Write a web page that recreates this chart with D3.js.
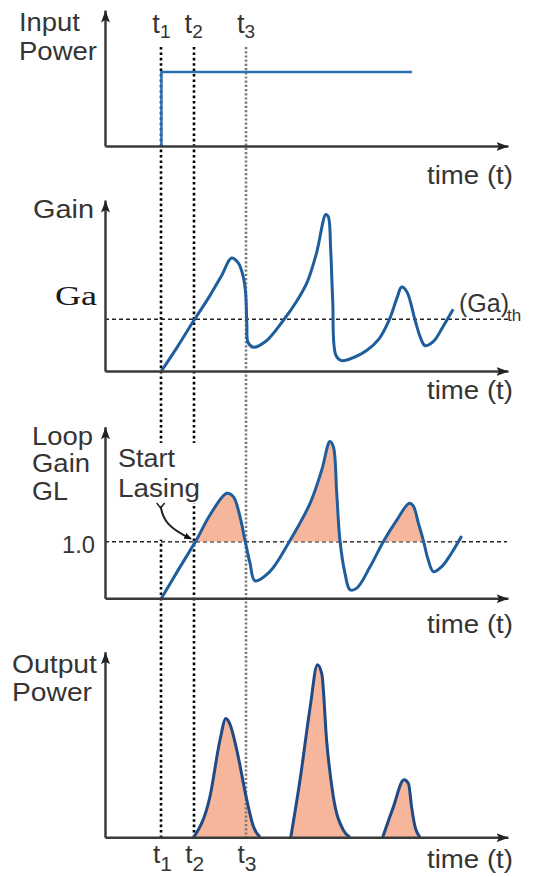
<!DOCTYPE html>
<html><head><meta charset="utf-8">
<script src="https://cdn.jsdelivr.net/npm/d3@7"></script>
<style>
html,body{margin:0;padding:0;background:#fff;}
svg{display:block;}
text{font-family:"Liberation Sans",Arial,Helvetica,sans-serif;fill:#353535;}
</style></head>
<body>
<script>
// ---------------- data ----------------
const tMarks = [14, 22, 35];            // t1, t2, t3
const tMarkNames = ["1", "2", "3"];

const inputT = [14, 14, 76.2];
const inputP = [0, 1, 1];

const gainThreshold = 1.0;
const gainT = [14, 18, 22, 26, 29, 31.4, 33.1, 34.3, 34.9, 35.2, 35.5, 36.8, 40, 44, 47.6, 50.2, 52.5, 54.8, 55.4, 56.0, 56.5, 57.3, 58.7, 62, 65, 68, 70.5, 72.5, 73.6, 74.9, 76.9, 78.2, 79.4, 81.5, 83.9, 86.4];
const gainV = [0, 0.47, 0.97, 1.45, 1.85, 2.18, 2.08, 1.82, 1.5, 0.9, 0.55, 0.46, 0.58, 0.95, 1.35, 1.72, 2.28, 3.02, 2.98, 2.34, 1.37, 0.3, 0.2, 0.27, 0.4, 0.62, 0.98, 1.42, 1.62, 1.53, 0.99, 0.66, 0.49, 0.57, 0.86, 1.19];

const loopThreshold = 1.0;
const loopT = [14, 18, 22.6, 26.05, 30.2, 31.84, 33.5, 34.74, 35.98, 37.2, 40.9, 45.9, 50.9, 53.8, 55.8, 56.65, 57.5, 58.3, 59.55, 60.8, 62.5, 65.8, 69.05, 72.4, 75.5, 76.5, 77.75, 79, 80.2, 81.5, 83.55, 86, 88.5];
const loopV = [0, 0.48, 1.02, 1.47, 1.855, 1.795, 1.44, 1.02, 0.62, 0.31, 0.47, 1.02, 1.68, 2.27, 2.77, 2.68, 1.855, 1.02, 0.44, 0.15, 0.18, 0.56, 1.0, 1.38, 1.68, 1.63, 1.33, 1.02, 0.68, 0.47, 0.56, 0.8, 1.1];

const pulse1T = [22, 26.05, 28.5, 30.0, 31.0, 32.7, 35.2, 36.8, 38.5];
const pulse1P = [0, 0.22, 0.52, 0.64, 0.61, 0.47, 0.2, 0.06, 0];
const pulse2T = [46.1, 48.4, 50.9, 52.7, 53.8, 55.0, 56.65, 59.1, 60.8];
const pulse2P = [0, 0.31, 0.70, 0.93, 0.88, 0.52, 0.22, 0.04, 0];
const pulse3T = [68.9, 71.5, 74.2, 75.3, 76.1, 76.9, 78.2];
const pulse3P = [0, 0.16, 0.31, 0.29, 0.16, 0.06, 0];

// ---------------- layout ----------------
const W = 534, H = 877;
const BLUE = "#1f5d9c", NAVY = "#1f4a85", PINK = "#f6b69c", AXIS = "#3a3a3a";

const x = d3.scaleLinear([0, 100], [105, 508]);
const yIn = d3.scaleLinear([0, 1.84], [146, 10]);
const yGain = d3.scaleLinear([0, 3.3], [371, 200]);
const yLoop = d3.scaleLinear([0, 3.03], [598.3, 426.7]);
const yOut = d3.scaleLinear([0, 1], [837.3, 651.7]);

const svg = d3.select("body").append("svg").attr("width", W).attr("height", H);
const defs = svg.append("defs");
defs.append("marker").attr("id", "arr").attr("viewBox", "0 0 12 10")
  .attr("refX", 12).attr("refY", 5).attr("markerWidth", 12).attr("markerHeight", 10)
  .attr("markerUnits", "userSpaceOnUse").attr("orient", "auto")
  .append("path").attr("d", "M0,0.5 L12,5 L0,9.5 L2.5,5 z").attr("fill", "#222");
defs.append("marker").attr("id", "dot").attr("viewBox", "0 0 10 10")
  .attr("refX", 8).attr("refY", 5).attr("markerWidth", 8).attr("markerHeight", 8)
  .attr("markerUnits", "userSpaceOnUse").attr("orient", "auto")
  .append("path").attr("d", "M0,1 L10,5 L0,9 z").attr("fill", "#111");
defs.append("clipPath").attr("id", "aboveLoop").append("rect")
  .attr("x", 0).attr("y", 0).attr("width", W).attr("height", yLoop(loopThreshold));

const zip = (a, b) => a.map((v, i) => [v, b[i]]);
const lineOf = (ys, curve) => d3.line().x(d => x(d[0])).y(d => ys(d[1])).curve(curve);
const smooth = d3.curveCatmullRom.alpha(0.5);

// threshold dashed lines
svg.append("line").attr("x1", x(0)).attr("x2", 510)
  .attr("y1", yGain(gainThreshold)).attr("y2", yGain(gainThreshold))
  .attr("stroke", "#222").attr("stroke-width", 1.5).attr("stroke-dasharray", "4,3");
svg.append("line").attr("x1", x(0)).attr("x2", 507)
  .attr("y1", yLoop(loopThreshold)).attr("y2", yLoop(loopThreshold))
  .attr("stroke", "#222").attr("stroke-width", 1.5).attr("stroke-dasharray", "4,3");

// loop gain fill above 1.0
const loopData = zip(loopT, loopV);
svg.append("path").datum(loopData)
  .attr("clip-path", "url(#aboveLoop)")
  .attr("d", d3.area().x(d => x(d[0])).y0(yLoop(loopThreshold)).y1(d => yLoop(d[1])).curve(smooth))
  .attr("fill", PINK);

// output pulses fill
const pulses = [zip(pulse1T, pulse1P), zip(pulse2T, pulse2P), zip(pulse3T, pulse3P)];
svg.selectAll(".pfill").data(pulses).join("path")
  .attr("d", d3.area().x(d => x(d[0])).y0(yOut(0)).y1(d => yOut(d[1])).curve(d3.curveMonotoneX))
  .attr("fill", PINK);

// vertical dotted time markers
const vTop = 47, vBot = yOut(0);
svg.selectAll(".vline").data(tMarks).join("line")
  .attr("x1", d => Math.round(x(d))).attr("x2", d => Math.round(x(d))).attr("y1", vTop).attr("y2", vBot)
  .attr("stroke", (d, i) => i === 2 ? "#7a7a7a" : "#000")
  .attr("stroke-width", 2.6)
  .attr("stroke-dasharray", (d, i) => i === 2 ? "2.2,2" : "2.6,2.8");

// curves
svg.append("path").datum(zip(inputT, inputP))
  .attr("d", lineOf(yIn, d3.curveLinear)).attr("fill", "none")
  .attr("stroke", "#2c70b4").attr("stroke-width", 2.5);
svg.append("path").datum(zip(gainT, gainV))
  .attr("d", lineOf(yGain, smooth)).attr("fill", "none")
  .attr("stroke", BLUE).attr("stroke-width", 3).attr("stroke-linejoin", "round");
svg.append("path").datum(loopData)
  .attr("d", lineOf(yLoop, smooth)).attr("fill", "none")
  .attr("stroke", BLUE).attr("stroke-width", 3).attr("stroke-linejoin", "round");
svg.selectAll(".pline").data(pulses).join("path")
  .attr("d", lineOf(yOut, d3.curveMonotoneX)).attr("fill", "none")
  .attr("stroke", NAVY).attr("stroke-width", 3).attr("stroke-linejoin", "round");

// axes (library axes with no ticks, arrowheads added)
[yIn, yGain, yLoop, yOut].forEach(ys => {
  const gx = svg.append("g").attr("transform", `translate(0,${ys(0)})`)
    .call(d3.axisBottom(x).tickValues([]).tickSizeOuter(0));
  gx.select(".domain").attr("stroke", AXIS).attr("stroke-width", 2.5).attr("marker-end", "url(#arr)");
  const gy = svg.append("g").attr("transform", `translate(${x(0)},0)`)
    .call(d3.axisLeft(ys).tickValues([]).tickSizeOuter(0));
  gy.select(".domain").attr("stroke", AXIS).attr("stroke-width", 2.5).attr("marker-end", "url(#arr)");
});

// labels
function label(txt, lx, ly, w, size, family) {
  const t = svg.append("text").attr("x", lx).attr("y", ly).attr("font-size", size).text(txt);
  if (w) t.attr("textLength", w).attr("lengthAdjust", "spacingAndGlyphs");
  if (family) t.style("font-family", family);
  return t;
}
label("Input", 19, 31, 61, 25);
label("Power", 19, 60, 78, 25);
label("Gain", 33, 218, 61, 25);
label("Ga", 55, 305, 42, 28, '"Liberation Serif","Times New Roman",serif').style("fill", "#1a1a1a");
label("Loop", 32, 445, 61, 25);
label("Gain", 32, 472, 58, 25);
label("GL", 32, 500, 36, 25);
label("1.0", 62, 553, 33, 24);
label("Output", 12, 673, 85, 25);
label("Power", 12, 701, 80, 25);

// (Ga)th
svg.append("text").attr("x", 459).attr("y", 312).attr("font-size", 25).text("(Ga)");
svg.append("text").attr("x", 507).attr("y", 321).attr("font-size", 17).text("th");

// time labels
[184, 399, 633, 868].forEach(by => label("time (t)", 427, by, 86, 25));

// t markers labels top & bottom
tMarks.forEach((t, i) => {
  const a = svg.append("text").attr("x", x(t)).attr("y", 33).attr("font-size", 27).attr("text-anchor", "middle");
  a.append("tspan").text("t");
  a.append("tspan").attr("dy", 5).attr("font-size", 19).text(tMarkNames[i]);
  const b = svg.append("text").attr("x", x(t) + 1).attr("y", 863).attr("font-size", 26).attr("text-anchor", "middle");
  b.append("tspan").text("t");
  b.append("tspan").attr("dy", 8).attr("font-size", 21).text(tMarkNames[i]);
});

// "Start Lasing" annotation with white mask
svg.append("rect").attr("x", 114).attr("y", 443).attr("width", 88).attr("height", 60).attr("fill", "#fff");
svg.append("rect").attr("x", x(tMarks[0]) - 4).attr("y", 500).attr("width", 8).attr("height", yLoop(loopThreshold) - 502).attr("fill", "#fff");
label("Start", 118, 467, 57, 25);
label("Lasing", 118, 497, 82, 25);
const ax = x(tMarks[1]) - 3, ay = yLoop(loopThreshold) - 3;
svg.append("path")
  .attr("d", `M${ax - 30},506 C${ax - 28},520 ${ax - 22},528 ${ax},${ay}`)
  .attr("fill", "none").attr("stroke", "#222").attr("stroke-width", 2).attr("marker-end", "url(#dot)");
svg.append("path").attr("d", `M${ax - 34},503 L${ax - 30},508 L${ax - 26},503`)
  .attr("fill", "none").attr("stroke", "#222").attr("stroke-width", 1.5);
</script>
</body></html>
